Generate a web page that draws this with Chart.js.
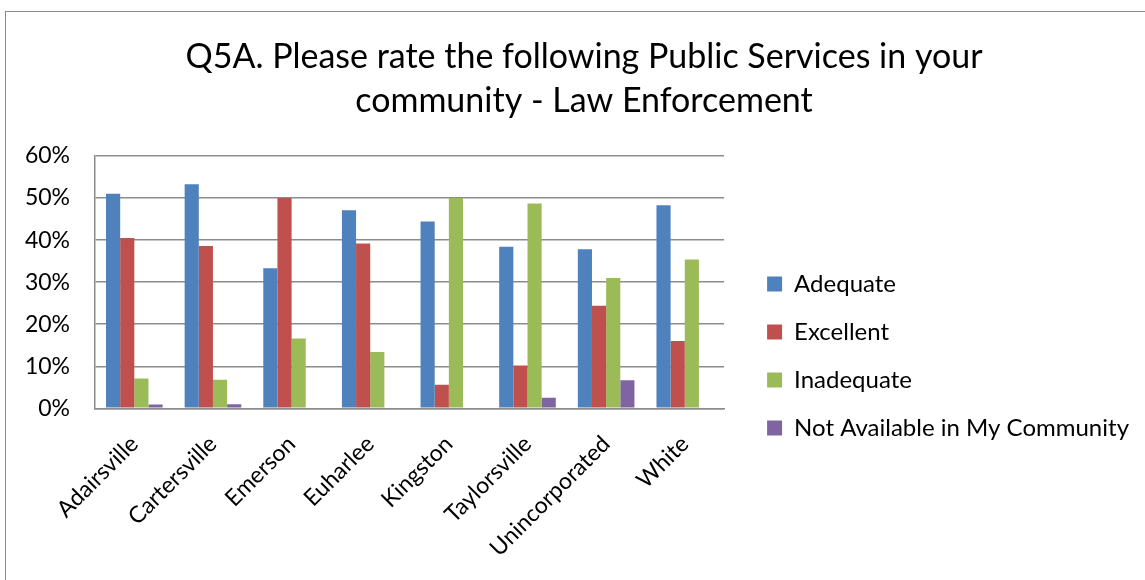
<!DOCTYPE html>
<html>
<head>
<meta charset="utf-8">
<script src="https://cdn.jsdelivr.net/npm/chart.js@4"></script>
<style>
  html, body { margin: 0; padding: 0; background: #fff; overflow: hidden; width: 1145px; height: 580px; }
  #box { position: absolute; left: 5px; top: 11px; width: 1156px; height: 600px; border: 1px solid #8a8a8a; background: #fff; }
  #c { display: block; }
</style>
</head>
<body>
<div id="box"><canvas id="c" width="1156" height="600"></canvas></div>
<script>
const categories = ["Adairsville", "Cartersville", "Emerson", "Euharlee", "Kingston", "Taylorsville", "Unincorporated", "White"];
const seriesNames = ["Adequate", "Excellent", "Inadequate", "Not Available in My Community"];
const adequate     = [51.0, 53.3, 33.3, 47.1, 44.4, 38.4, 37.8, 48.3];
const excellent    = [40.5, 38.6, 50.0, 39.2, 5.6, 10.2, 24.4, 16.0];
const inadequate   = [7.1, 6.8, 16.6, 13.4, 50.0, 48.7, 31.0, 35.4];
const notAvailable = [0.9, 1.0, null, null, null, 2.5, 6.7, null];
const yTicks = [0, 10, 20, 30, 40, 50, 60];
const titleLines = ["Q5A. Please rate the following Public Services in your", "community - Law Enforcement"];

const colors = ["#4F81BD", "#C0504D", "#9BBB59", "#8064A2"];
const seriesData = [adequate, excellent, inadequate, notAvailable];
const FONT = "Lato, 'Open Sans', 'DejaVu Sans', sans-serif";

// nudges the legend and title boxes to the Excel-like spots
const boxOffset = {
  id: 'boxOffset',
  afterLayout(chart) {
    const lg = chart.legend;
    if (lg) {
      const dx = 19, dy = 58;
      lg.left += dx; lg.right += dx;
      lg.top += dy; lg.bottom += dy;
    }
    const tb = chart.titleBlock;
    if (tb) { tb.left += 12; tb.right += 12; }
  }
};

new Chart(document.getElementById('c'), {
  type: 'bar',
  data: {
    labels: categories,
    datasets: seriesNames.map((n, i) => ({
      label: n,
      data: seriesData[i],
      backgroundColor: colors[i],
      borderWidth: 0,
      categoryPercentage: 0.72,
      barPercentage: 1.0
    }))
  },
  plugins: [boxOffset],
  options: {
    responsive: false,
    animation: false,
    layout: { autoPadding: false, padding: { left: 18, right: 42, top: 0, bottom: 28 } },
    plugins: {
      title: {
        display: true,
        text: titleLines,
        color: '#000',
        font: { family: FONT, size: 34, weight: 'normal', lineHeight: 1.294 },
        padding: { top: 23, bottom: 33 }
      },
      legend: {
        position: 'right',
        maxWidth: 420,
        labels: {
          color: '#000',
          font: { family: FONT, size: 24 },
          boxWidth: 15,
          boxHeight: 15,
          padding: 24
        }
      },
      tooltip: { enabled: false }
    },
    scales: {
      y: {
        min: 0, max: 60,
        afterBuildTicks: (s) => { s.ticks = yTicks.map(v => ({ value: v })); },
        afterFit: (s) => { s.width = 71; },
        ticks: {
          color: '#000',
          font: { family: FONT, size: 23 },
          padding: 25,
          callback: (v) => v + '%'
        },
        grid: { color: '#8c8c8c', lineWidth: 1.5, drawTicks: false },
        border: { display: true, color: '#8c8c8c', width: 1.5 }
      },
      x: {
        afterFit: (s) => { s.paddingLeft = 0; s.paddingRight = 0; },
        ticks: {
          color: '#000',
          font: { family: FONT, size: 23 },
          minRotation: 45,
          maxRotation: 45,
          padding: 22
        },
        grid: { display: false, drawTicks: false },
        border: { display: true, color: '#8c8c8c', width: 1.5 }
      }
    }
  }
});
</script>
</body>
</html>
